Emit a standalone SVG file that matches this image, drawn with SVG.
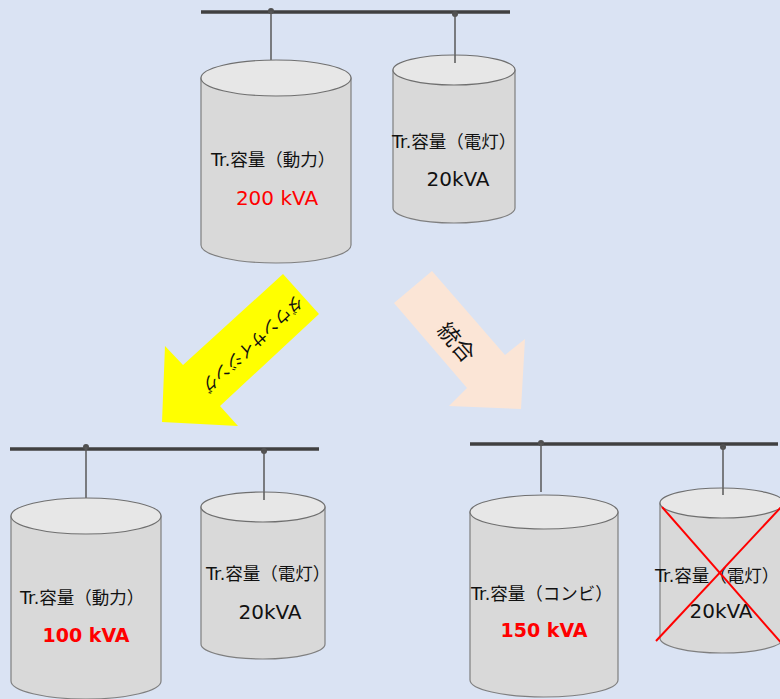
<svg xmlns="http://www.w3.org/2000/svg" width="780" height="699" viewBox="0 0 780 699">
  <style>
    .bus { stroke: #404040; stroke-width: 3.5; fill: none; }
    .tap { fill: #505050; }
    .drop { stroke: #595959; stroke-width: 1.5; fill: none; }
    .body { fill: #D9D9D9; stroke: #7F7F7F; stroke-width: 1.2; }
    .lid { fill: #E7E7E7; stroke: #6F6F6F; stroke-width: 1.2; }
    .lbl { font-family: "DejaVu Sans", "Noto Sans CJK JP", sans-serif; font-size: 17.5px; fill: #111; }
    .val { font-family: "DejaVu Sans", "Noto Sans CJK JP", sans-serif; font-size: 20px; fill: #111; text-anchor: middle; }
    .red { fill: #FF0000; }
    .bold { font-weight: bold; font-size: 19px; }
    .cross { stroke: #FF0000; stroke-width: 2; }
    .arrowtxt { font-family: "Noto Sans CJK JP", sans-serif; fill: #111; text-anchor: middle; dominant-baseline: central; }
  </style>

  <rect width="780" height="699" fill="#DAE3F3"/>

  <!-- bus bars and feeder drops -->
  <g id="connectors">
    <line class="bus" x1="201" y1="12" x2="510" y2="12"/>
    <circle class="tap" cx="271" cy="11" r="3"/>
    <circle class="tap" cx="455" cy="14" r="3"/>
    <line class="drop" x1="271" y1="11" x2="271" y2="60"/>
    <line class="drop" x1="455" y1="14" x2="455" y2="63"/>

    <line class="bus" x1="10" y1="449" x2="319" y2="449"/>
    <circle class="tap" cx="86" cy="447" r="3"/>
    <circle class="tap" cx="264" cy="451" r="3"/>
    <line class="drop" x1="86" y1="447" x2="86" y2="498"/>
    <line class="drop" x1="264" y1="451" x2="264" y2="500"/>

    <line class="bus" x1="470" y1="444" x2="778" y2="444"/>
    <circle class="tap" cx="541" cy="443" r="3"/>
    <circle class="tap" cx="723" cy="447" r="3"/>
    <line class="drop" x1="541" y1="443" x2="541" y2="492"/>
    <line class="drop" x1="723" y1="447" x2="723" y2="495"/>
  </g>

  <!-- transformer: power, before -->
  <g id="tr-power-200">
    <path class="body" d="M201,78 L201,245 A75,18 0 0 0 351,245 L351,78 Z"/>
    <ellipse class="lid" cx="276" cy="78" rx="75" ry="18"/>
    <text class="lbl" x="211" y="166">Tr.容量（動力）</text>
    <text class="val red" x="277" y="205">200 kVA</text>
  </g>

  <!-- transformer: lighting, before -->
  <g id="tr-light-top">
    <path class="body" d="M393,70 L393,208 A61,15 0 0 0 515,208 L515,70 Z"/>
    <ellipse class="lid" cx="454" cy="70" rx="61" ry="15"/>
    <line class="drop" x1="455" y1="55" x2="455" y2="63"/>
    <text class="lbl" x="392" y="148">Tr.容量（電灯）</text>
    <text class="val" x="458" y="186">20kVA</text>
  </g>

  <!-- downsizing arrow -->
  <g id="arrow-downsizing">
    <polygon points="283,274 319,314 220,406 238,426 162,422 165,346 183,365" fill="#FFFF00"/>
    <text class="arrowtxt" font-size="16.5" transform="translate(253,345) rotate(137)">ダウンサイジング</text>
  </g>

  <!-- integration arrow -->
  <g id="arrow-merge">
    <polygon points="394,303 432,271 505,355 525,339 521,409 449,406 467,388" fill="#FBE5D6"/>
    <text class="arrowtxt" font-size="22" transform="translate(458,341) rotate(49)">統合</text>
  </g>

  <!-- transformer: power, downsized -->
  <g id="tr-power-100">
    <path class="body" d="M11,516 L11,681 A75,18 0 0 0 161,681 L161,516 Z"/>
    <ellipse class="lid" cx="86" cy="516" rx="75" ry="18"/>
    <text class="lbl" x="20" y="604">Tr.容量（動力）</text>
    <text class="val red bold" x="86" y="642">100 kVA</text>
  </g>

  <!-- transformer: lighting, downsized case -->
  <g id="tr-light-left">
    <path class="body" d="M201,507 L201,644 A62,15 0 0 0 325,644 L325,507 Z"/>
    <ellipse class="lid" cx="263" cy="507" rx="62" ry="15"/>
    <line class="drop" x1="264" y1="492" x2="264" y2="500"/>
    <text class="lbl" x="206" y="580">Tr.容量（電灯）</text>
    <text class="val" x="270" y="619">20kVA</text>
  </g>

  <!-- transformer: combined -->
  <g id="tr-combined-150">
    <path class="body" d="M470,512 L470,680 A74,17 0 0 0 618,680 L618,512 Z"/>
    <ellipse class="lid" cx="544" cy="512" rx="74" ry="17"/>
    <text class="lbl" x="471" y="600">Tr.容量（コンビ）</text>
    <text class="val red bold" x="544" y="637">150 kVA</text>
  </g>

  <!-- transformer: lighting, removed -->
  <g id="tr-light-removed">
    <path class="body" d="M660,503 L660,638 A62,15 0 0 0 784,638 L784,503 Z"/>
    <ellipse class="lid" cx="722" cy="503" rx="62" ry="15"/>
    <line class="drop" x1="723" y1="488" x2="723" y2="495"/>
    <text class="lbl" x="655" y="582">Tr.容量（電灯）</text>
    <text class="val" x="721" y="618">20kVA</text>
    <line class="cross" x1="662" y1="507" x2="784" y2="646"/>
    <line class="cross" x1="784" y1="504" x2="656" y2="641"/>
  </g>
</svg>
